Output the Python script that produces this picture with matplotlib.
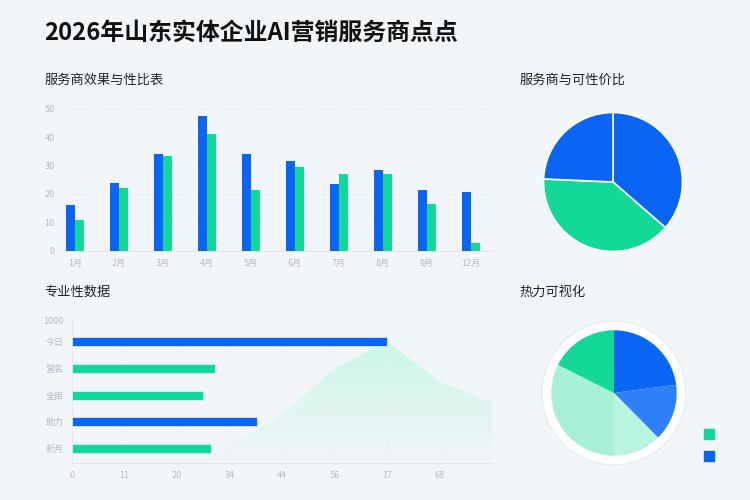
import matplotlib
matplotlib.use("Agg")
import matplotlib.pyplot as plt
import numpy as np
from matplotlib.patches import Circle, Patch
from matplotlib.colors import LinearSegmentedColormap

plt.rcParams['font.family'] = ['Noto Sans CJK SC', 'DejaVu Sans']

BLUE = '#0a64f4'
GREEN = '#12d998'
TICK = '#b4bcc4'

# bar chart data
months = ['1月', '2月', '3月', '4月', '5月', '6月', '7月', '8月', '9月', '12月']
blue_vals = [16, 24, 34, 47.5, 34, 31.5, 23.5, 28.5, 21.5, 20.5]
green_vals = [10.8, 22, 33.5, 41, 21.5, 29.5, 27, 27, 16.5, 2.5]

# horizontal bars
hcats = ['今日', '营名', '全亩', '助力', '析月']
hvals = [6.0, 2.72, 2.5, 3.52, 2.64]
hcolors = [BLUE, GREEN, GREEN, BLUE, GREEN]
hx_labels = ['0', '11', '20', '34', '44', '56', '17', '68']
area_x = [2.4, 3, 4, 5, 6, 7, 8]
area_y = [-0.53, 0.13, 1.25, 3.0, 4.0, 2.5, 1.7]

# pies
pie1_vals = [36.4, 39.3, 24.3]
pie1_colors = [BLUE, GREEN, BLUE]
pie2_vals = [22.9, 14.7, 12.4, 32.4, 17.6]
pie2_colors = [BLUE, '#2f80f6', '#b9f4e0', '#a9f0d8', GREEN]

fig = plt.figure(figsize=(7.5, 5), dpi=100, facecolor='#f2f6f9')

fig.text(0.059, 0.934, '2026年山东实体企业AI营销服务商点点', fontsize=17.2,
         fontweight='bold', color='#111111', va='center')
fig.text(0.059, 0.84, '服务商效果与性比表', fontsize=9.5, color='#222222', va='center')
fig.text(0.693, 0.84, '服务商与可性价比', fontsize=9.5, color='#222222', va='center')
fig.text(0.059, 0.416, '专业性数据', fontsize=9.5, color='#222222', va='center')
fig.text(0.693, 0.416, '热力可视化', fontsize=9.5, color='#222222', va='center')

# --- grouped bar chart ---
ax1 = fig.add_axes([0.084, 0.499, 0.573, 0.283])
ax1.set_facecolor('none')
x = np.arange(len(months))
w = 0.2
ax1.bar(x - w / 2, blue_vals, w, color=BLUE, zorder=3)
ax1.bar(x + w / 2, green_vals, w, color=GREEN, zorder=3)
ax1.set_xlim(-0.27, 9.5)
ax1.set_ylim(0, 50)
ax1.set_yticks(range(0, 51, 10))
ax1.set_xticks(x)
ax1.set_xticklabels(months)
ax1.grid(axis='y', color='#dfe4e9', linestyle=(0, (1, 2)), linewidth=0.7, zorder=0)
for s in ['top', 'right', 'left']:
    ax1.spines[s].set_visible(False)
ax1.spines['bottom'].set_color('#e3e7ec')
ax1.tick_params(colors=TICK, labelsize=6.5, length=0, pad=6)

# --- horizontal bars ---
ax2 = fig.add_axes([0.0956, 0.0746, 0.561, 0.2854])
ax2.set_facecolor('none')
ax2.set_xlim(0, 8.0)
ax2.set_ylim(-0.53, 4.81)

poly = ax2.fill_between(area_x, -0.53, area_y, color='none', lw=0)
cmap = LinearSegmentedColormap.from_list('mint', [(0.78, 0.96, 0.9, 0.0), (0.78, 0.97, 0.91, 0.95)])
grad = np.linspace(0, 1, 200).reshape(-1, 1)
im = ax2.imshow(grad, extent=[2.4, 8.0, -0.53, 4.0], origin='lower', aspect='auto',
                cmap=cmap, zorder=1)
path = poly.get_paths()[0]
im.set_clip_path(path, transform=ax2.transData)

ypos = np.arange(len(hcats))[::-1]
ax2.barh(ypos, hvals, height=0.33, color=hcolors, edgecolor='#dbe9ff', linewidth=0.6, zorder=3)
ax2.set_yticks(list(ypos) + [4.81])
ax2.set_yticklabels(hcats + ['1000'])
ax2.set_xticks(range(len(hx_labels)))
ax2.set_xticklabels(hx_labels)
ax2.grid(axis='x', color='#eef1f4', linewidth=0.6, zorder=0)
for s in ['top', 'right']:
    ax2.spines[s].set_visible(False)
ax2.spines['left'].set_color('#e6eaee')
ax2.spines['bottom'].set_color('#e3e7ec')
ax2.tick_params(colors=TICK, labelsize=6.5, length=0, pad=6)

# --- pie 1 ---
ax3 = fig.add_axes([(613 - 69.5) / 750, 1 - (182 + 69.5) / 500, 139 / 750, 139 / 500])
ax3.pie(pie1_vals, colors=pie1_colors, startangle=90, counterclock=False,
        wedgeprops=dict(edgecolor='white', linewidth=1.2))
ax3.set_xlim(-1, 1)
ax3.set_ylim(-1, 1)
ax3.set_aspect('equal')

# --- pie 2 ---
r_out = 73
ax4 = fig.add_axes([(614 - r_out) / 750, 1 - (393 + r_out) / 500, 2 * r_out / 750, 2 * r_out / 500])
ax4.add_patch(Circle((0, 0), 0.985, facecolor='white', edgecolor='#e6e9ee', linewidth=0.8))
ax4.pie(pie2_vals, colors=pie2_colors, startangle=90, counterclock=False,
        radius=62.7 / r_out, wedgeprops=dict(linewidth=0))
ax4.set_xlim(-1, 1)
ax4.set_ylim(-1, 1)
ax4.set_aspect('equal')

fig.legend(handles=[Patch(color=GREEN), Patch(color=BLUE)], labels=['', ''],
           loc='center', bbox_to_anchor=(0.945, 0.108), frameon=False,
           handlelength=0.75, handleheight=0.75, labelspacing=0.55, handletextpad=0)

fig.savefig('out.png', dpi=100, facecolor=fig.get_facecolor())
